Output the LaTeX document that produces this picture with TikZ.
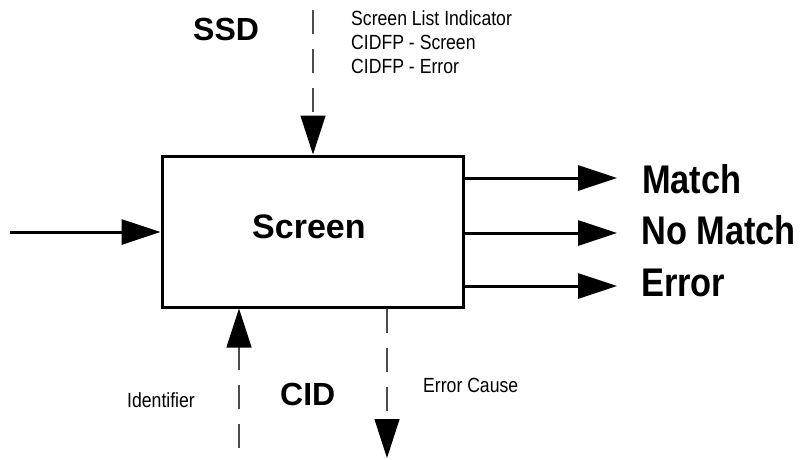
\documentclass[tikz,border=0pt]{standalone}
\usepackage{fontspec}
\setmainfont{Liberation Sans}
\newfontfamily\narrowsans[FakeStretch=0.86]{Liberation Sans}
\newfontfamily\tallsans[FakeStretch=0.86]{Liberation Sans}
\usetikzlibrary{arrows.meta}

\tikzset{
  bigtip/.style={-{Triangle[length=39pt,width=25pt,color=black]}},
  flowline/.style={bigtip, line width=3pt},
  ctrlline/.style={bigtip, line width=1.2pt, draw=black!70,
                   dash pattern=on 24pt off 15pt},
  procbox/.style={draw, line width=3pt, inner sep=0pt,
                  minimum width=301pt, minimum height=151pt},
  txt/.style={inner sep=0pt, anchor=base west},
  boxname/.style={txt, font=\fontsize{34}{40}\selectfont\bfseries},
  groupname/.style={txt, font=\fontsize{32}{38}\selectfont\bfseries},
  outname/.style={txt, font=\tallsans\fontsize{40}{46}\selectfont\bfseries},
  smalltxt/.style={txt, font=\narrowsans\fontsize{20.5}{24}\selectfont},
}

\begin{document}
\begin{tikzpicture}[x=1pt, y=-1pt]
  \useasboundingbox (0,0) rectangle (800,459);

  % process box
  \node[procbox] (screen) at (312.5,231.5) {};
  \node[boxname] (screentxt) at (252,238.5) {Screen};

  % group labels
  \node[groupname] (ssd) at (193,40) {SSD};
  \node[groupname] (cid) at (280,405) {CID};

  % control labels
  \node[smalltxt] (sli) at (351,25) {Screen List Indicator};
  \node[smalltxt] (cscr) at (351,49) {CIDFP - Screen};
  \node[smalltxt] (cerr) at (351,73) {CIDFP - Error};
  \node[smalltxt] (ident) at (127,407) {Identifier};
  \node[smalltxt] (cause) at (423,392) {Error Cause};

  % outcome labels
  \node[outname] (match) at (642,193) {Match};
  \node[outname] (nomatch) at (641,244) {No Match};
  \node[outname] (error) at (641,296) {Error};

  % free ends of the connectors
  \coordinate (inS) at (10,232);
  \coordinate (mE) at (617,178);
  \coordinate (nE) at (617,233);
  \coordinate (eE) at (617,286);
  \coordinate (ssdS) at (313,10);
  \coordinate (cidS) at (239,448);
  \coordinate (causeE) at (387,458);

  % solid flow
  \draw[flowline] (inS) -- (inS -| screen.west);
  \draw[flowline] (screen.east |- mE) -- (mE);
  \draw[flowline] (screen.east |- nE) -- (nE);
  \draw[flowline] (screen.east |- eE) -- (eE);

  % dashed control flow
  \draw[ctrlline] (ssdS) -- (ssdS |- screen.north);
  \draw[ctrlline] (cidS) -- (cidS |- screen.south);
  \draw[ctrlline] (causeE |- screen.south) -- (causeE);
\end{tikzpicture}
\end{document}
